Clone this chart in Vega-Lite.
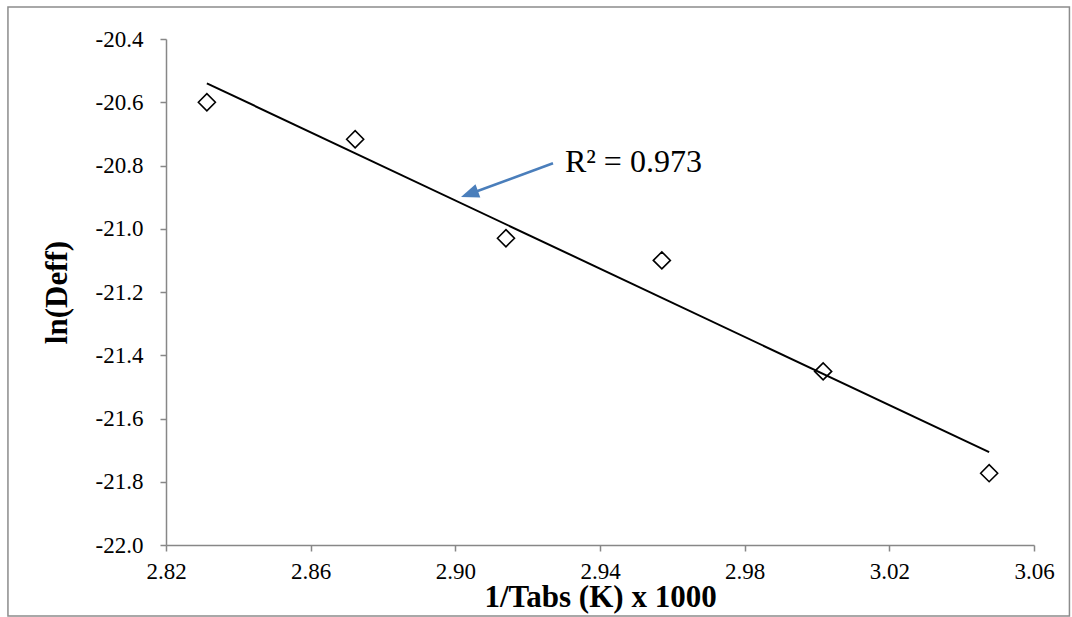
{
  "$schema": "https://vega.github.io/schema/vega-lite/v6.json",
  "width": 868,
  "height": 506,
  "autosize": {"type": "none"},
  "padding": {"left": 166, "top": 39, "right": 38, "bottom": 72},
  "background": "white",
  "config": {
    "view": {"stroke": null},
    "font": "Liberation Serif",
    "axis": {
      "grid": false,
      "domainColor": "#878787",
      "domainWidth": 1.5,
      "tickColor": "#878787",
      "tickWidth": 1.5,
      "tickSize": 6,
      "labelFont": "Liberation Serif",
      "labelFontSize": 23,
      "labelColor": "black",
      "titleFont": "Liberation Serif",
      "titleFontSize": 31,
      "titleFontWeight": "bold",
      "titleColor": "black"
    }
  },
  "datasets": {
    "pts": [
      {"x": 2.8313, "y": -20.600},
      {"x": 2.8723, "y": -20.717},
      {"x": 2.9140, "y": -21.030},
      {"x": 2.9571, "y": -21.100},
      {"x": 3.0017, "y": -21.451},
      {"x": 3.0476, "y": -21.773}
    ],
    "arrow": [
      {"x": 2.9270, "y": -20.793},
      {"x": 2.9039, "y": -20.890}
    ]
  },
  "layer": [
    {
      "data": {"values": [{}]},
      "mark": {"type": "rect", "fill": null, "stroke": "#8c8c8c", "strokeWidth": 1.5, "clip": false},
      "encoding": {
        "x": {"datum": 2.7763, "type": "quantitative", "scale": {"domain": [2.82, 3.06], "nice": false, "zero": false}},
        "x2": {"datum": 3.0698},
        "y": {"datum": -20.2988, "type": "quantitative", "scale": {"domain": [-22.0, -20.4], "nice": false, "zero": false}},
        "y2": {"datum": -22.2245}
      }
    },
    {
      "data": {"name": "pts"},
      "mark": {"type": "point", "shape": "diamond", "filled": true, "fill": "white", "stroke": "black", "strokeWidth": 1.6, "size": 290, "opacity": 1},
      "encoding": {
        "x": {
          "field": "x", "type": "quantitative",
          "scale": {"domain": [2.82, 3.06], "nice": false, "zero": false},
          "axis": {
            "values": [2.82, 2.86, 2.90, 2.94, 2.98, 3.02, 3.06],
            "format": ".2f",
            "labelFont": "Liberation Serif",
            "labelPadding": 9,
            "labelOverlap": false,
            "labelFlush": false,
            "title": "1/Tabs (K) x 1000",
            "titlePadding": -1
          }
        },
        "y": {
          "field": "y", "type": "quantitative",
          "scale": {"domain": [-22.0, -20.4], "nice": false, "zero": false},
          "axis": {
            "values": [-22.0, -21.8, -21.6, -21.4, -21.2, -21.0, -20.8, -20.6, -20.4],
            "labelExpr": "replace(format(datum.value, '.1f'), '\u2212', '-')",
            "labelFont": "Liberation Serif",
            "labelPadding": 17,
            "labelFlush": false,
            "labelOverlap": false,
            "title": "ln(Deff)",
            "titlePadding": 22
          }
        }
      }
    },
    {
      "data": {"name": "pts"},
      "transform": [{"regression": "y", "on": "x"}],
      "mark": {"type": "line", "color": "black", "strokeWidth": 2},
      "encoding": {
        "x": {"field": "x", "type": "quantitative"},
        "y": {"field": "y", "type": "quantitative"}
      }
    },
    {
      "data": {"name": "arrow"},
      "mark": {"type": "line", "color": "#4A7EBB", "strokeWidth": 2.5},
      "encoding": {
        "x": {"field": "x", "type": "quantitative"},
        "y": {"field": "y", "type": "quantitative"}
      }
    },
    {
      "data": {"values": [{}]},
      "mark": {"type": "point", "shape": "M0,-1L0.78,1L-0.78,1Z", "filled": true, "color": "#4A7EBB", "size": 324, "angle": 250, "opacity": 1},
      "encoding": {
        "x": {"datum": 2.9039, "type": "quantitative"},
        "y": {"datum": -20.8898, "type": "quantitative"}
      }
    },
    {
      "data": {"values": [{"label": "R² = 0.973"}]},
      "mark": {"type": "text", "align": "left", "baseline": "alphabetic", "fontSize": 32, "font": "Liberation Serif", "color": "black"},
      "encoding": {
        "x": {"datum": 2.9303, "type": "quantitative"},
        "y": {"datum": -20.8206, "type": "quantitative"},
        "text": {"field": "label"}
      }
    }
  ]
}
